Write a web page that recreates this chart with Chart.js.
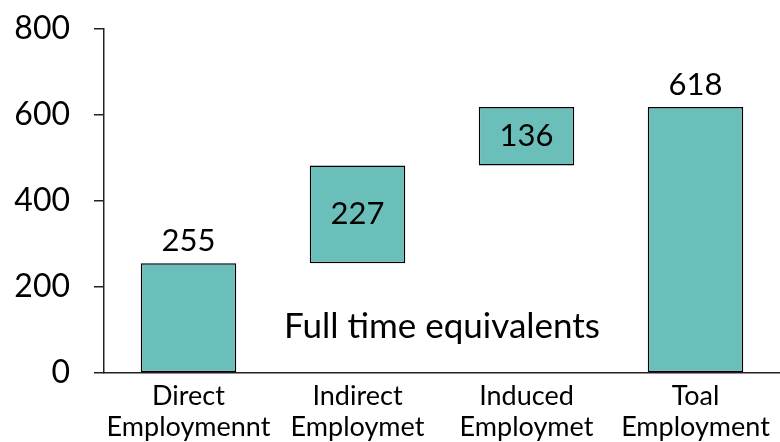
<!DOCTYPE html>
<html>
<head>
<meta charset="utf-8">
<script src="https://cdn.jsdelivr.net/npm/chart.js@4/dist/chart.umd.min.js"></script>
<style>
  html, body { margin: 0; padding: 0; background: #fff; }
  #wrap { width: 780px; height: 442px; }
</style>
</head>
<body>
<div id="wrap"><canvas id="c" width="780" height="442"></canvas></div>
<script>
// Employment impact, full time equivalents
const categories = [["Direct", "Employmennt"], ["Indirect", "Employmet"], ["Induced", "Employmet"], ["Toal", "Employment"]];
const values = [255, 227, 136, 618];
const isTotal = [false, false, false, true];
const yTicks = [0, 200, 400, 600, 800];
const noteText = "Full time equivalents";

// Waterfall: each step floats on the running sum, the total starts at zero
const ranges = [];
let running = 0;
values.forEach((v, i) => {
  if (isTotal[i]) { ranges.push([0, v]); }
  else { ranges.push([running, running + v]); running += v; }
});

const FONT = "Lato, 'Open Sans', sans-serif";

const labelPlugin = {
  id: 'valueLabels',
  afterDatasetsDraw(chart) {
    const ctx = chart.ctx;
    const meta = chart.getDatasetMeta(0);
    ctx.save();
    ctx.fillStyle = '#000';
    ctx.font = '31px ' + FONT;
    ctx.textAlign = 'center';
    meta.data.forEach((bar, i) => {
      const inside = ranges[i][0] > 0;
      if (inside) {
        ctx.textBaseline = 'middle';
        ctx.fillText(String(values[i]), bar.x, (bar.y + bar.base) / 2);
      } else {
        ctx.textBaseline = 'bottom';
        ctx.fillText(String(values[i]), bar.x, bar.y - 7);
      }
    });
    // Unit note in the open space between the middle columns
    const xs = chart.scales.x, ys = chart.scales.y;
    const nx = (xs.getPixelForValue(1) + xs.getPixelForValue(2)) / 2;
    const ny = ys.getPixelForValue(107);
    ctx.textBaseline = 'middle';
    ctx.font = '35px ' + FONT;
    ctx.fillText(noteText, nx, ny);
    ctx.restore();
  }
};

new Chart(document.getElementById('c'), {
  type: 'bar',
  data: {
    labels: categories,
    datasets: [{
      data: ranges,
      backgroundColor: '#6bbfbb',
      borderColor: '#000',
      borderWidth: 1.5,
      borderSkipped: false,
      barPercentage: 0.565,
      categoryPercentage: 1.0
    }]
  },
  options: {
    responsive: false,
    animation: false,
    layout: { padding: { top: 0, right: 0, left: 0, bottom: 0 } },
    plugins: { legend: { display: false }, tooltip: { enabled: false } },
    scales: {
      x: {
        afterFit(scale) { scale.height = 69; },
        grid: { display: false, drawTicks: false },
        border: { display: true, color: '#222', width: 1.5 },
        ticks: { color: '#000', font: { family: FONT, size: 27, lineHeight: 1.15 }, padding: 8, maxRotation: 0, autoSkip: false }
      },
      y: {
        min: 0, max: 800,
        afterFit(scale) { scale.width = 104; },
        afterBuildTicks(scale) { scale.ticks = yTicks.map(v => ({ value: v })); },
        grid: { drawOnChartArea: false, drawTicks: true, tickLength: 10, color: '#222', lineWidth: 1.5 },
        border: { display: true, color: '#222', width: 1.5 },
        ticks: { color: '#000', font: { family: FONT, size: 32, lineHeight: 0.3 }, padding: 24 }
      }
    }
  },
  plugins: [labelPlugin]
});
</script>
</body>
</html>
